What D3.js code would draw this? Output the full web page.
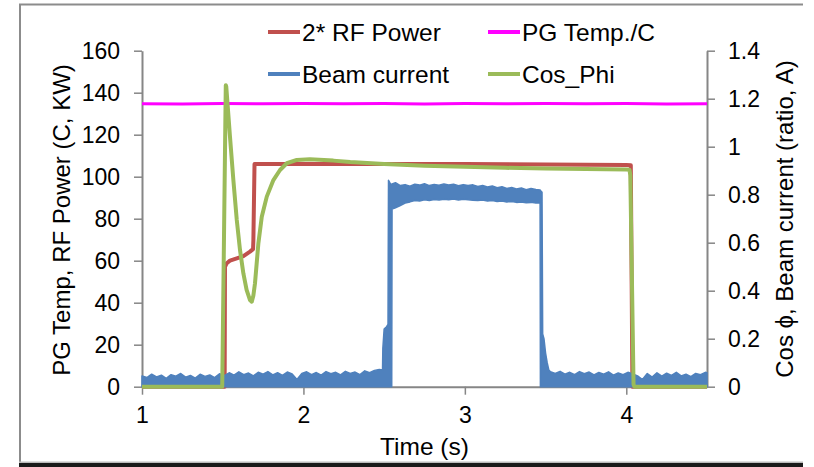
<!DOCTYPE html>
<html><head><meta charset="utf-8">
<script src="https://cdn.jsdelivr.net/npm/d3@7"></script>
<style>
html,body{margin:0;padding:0;background:#fff;}
svg{display:block;font-family:"Liberation Sans",Arial,sans-serif;}
</style></head>
<body>
<svg id="chart" width="814" height="467"></svg>
<script>
// ---------- data ----------
const xTicks = [1, 2, 3, 4];
const leftTicks = [0, 20, 40, 60, 80, 100, 120, 140, 160];
const rightTicks = [0, 0.2, 0.4, 0.6, 0.8, 1, 1.2, 1.4];

// 2* RF Power (left axis)
const rfTime  = [1.0, 1.512, 1.514, 1.525, 1.545, 1.587, 1.628, 1.669, 1.688, 1.690, 1.697, 2.0, 2.5, 3.0, 3.5, 4.0, 4.028, 4.038, 4.5];
const rfValue = [0,   0,     57.1,  58.8,  60.0,  61.1,  62.2,  64.3,  65.5,  70,    106,   106, 106, 106, 105.8, 105.6, 105.5, 0, 0];

// PG Temp./C (left axis)
const pgTime  = [1.0, 1.25, 1.5, 1.75, 2.0, 2.25, 2.5, 2.75, 3.0, 3.25, 3.5, 3.75, 4.0, 4.25, 4.5];
const pgValue = [134.7, 134.6, 134.8, 134.7, 134.9, 134.7, 134.8, 134.6, 134.8, 134.7, 134.9, 134.7, 134.8, 134.6, 134.7];

// Cos_Phi (right axis)
const cosTime  = [1.0, 1.497, 1.519, 1.522, 1.545, 1.566, 1.587, 1.607, 1.628, 1.648, 1.669, 1.680, 1.690, 1.700, 1.721, 1.742, 1.773, 1.814, 1.855, 1.897, 1.959, 2.04, 2.185, 2.29, 2.5, 2.75, 3.0, 3.25, 3.5, 3.75, 4.0, 4.02, 4.025, 4.045, 4.05, 4.5];
const cosValue = [0,   0,     1.256, 1.25,  1.042, 0.861, 0.695, 0.570, 0.472, 0.403, 0.361, 0.354, 0.380, 0.431, 0.598, 0.708, 0.792, 0.861, 0.903, 0.931, 0.945, 0.948, 0.942, 0.936, 0.928, 0.921, 0.916, 0.912, 0.909, 0.907, 0.905, 0.904, 0.88, 0.01, 0, 0];

// Beam current (right axis): noisy trace, given as lower/upper envelope
const beamTime = [
 1.00,1.03,1.06,1.09,1.12,1.15,1.18,1.21,1.24,1.27,1.30,1.33,1.36,1.39,1.42,1.45,1.48,1.51,1.54,1.57,
 1.60,1.63,1.66,1.69,1.72,1.75,1.78,1.81,1.84,1.87,1.90,1.93,1.96,1.99,2.02,2.05,2.08,2.11,2.14,2.17,
 2.20,2.23,2.26,2.29,2.32,2.35,2.38,2.41,2.44,2.47,
 2.490,2.492,2.500,2.515,2.524,2.527,2.535,2.547,2.549,
 2.57,2.60,2.63,2.66,2.69,2.72,2.75,2.78,2.81,2.84,2.87,2.90,2.93,2.96,2.99,3.02,3.05,3.08,3.11,3.14,
 3.17,3.20,3.23,3.26,3.29,3.32,3.35,3.38,3.41,3.44,
 3.466,3.468,3.478,3.482,3.490,3.500,3.510,3.520,
 3.53,3.56,3.59,3.62,3.65,3.68,3.71,3.74,3.77,3.80,3.83,3.86,3.89,3.92,3.95,3.98,4.01,4.04,4.07,4.10,
 4.13,4.16,4.19,4.22,4.25,4.28,4.31,4.34,4.37,4.40,4.43,4.46,4.49,4.50];
const beamHigh = [
 .045,.038,.052,.041,.048,.035,.050,.044,.055,.040,.047,.036,.052,.043,.049,.038,.054,.046,.058,.048,
 .062,.050,.057,.045,.060,.052,.063,.049,.058,.047,.061,.053,.030,.055,.062,.050,.059,.048,.063,.054,
 .060,.049,.064,.055,.061,.050,.066,.058,.068,.072,
 .070,.160,.240,.250,.260,.860,.850,.840,.845,
 .850,.838,.842,.835,.844,.840,.846,.838,.843,.839,.845,.840,.844,.837,.842,.838,.841,.834,.838,.832,
 .836,.829,.833,.826,.830,.824,.828,.821,.826,.822,
 .820,.818,.810,.220,.200,.140,.100,.070,
 .062,.055,.064,.052,.060,.050,.063,.054,.061,.049,.059,.052,.062,.048,.057,.050,.060,.053,.045,.030,
 .055,.040,.058,.044,.056,.047,.060,.045,.052,.042,.055,.050,.060,.058];
const beamLow = [
 0,0,0,0,0,0,0,0,0,0,0,0,0,0,0,0,0,0,0,0,
 0,0,0,0,0,0,0,0,0,0,0,0,0,0,0,0,0,0,0,0,
 0,0,0,0,0,0,0,0,0,0,
 0,0,0,0,0,0,0,0,.740,
 .745,.755,.765,.770,.776,.774,.779,.776,.780,.778,.781,.779,.782,.778,.781,.779,.777,.776,.778,.774,
 .776,.772,.774,.770,.772,.768,.770,.766,.768,.765,
 .765,0,0,0,0,0,0,0,
 0,0,0,0,0,0,0,0,0,0,0,0,0,0,0,0,0,0,0,0,
 0,0,0,0,0,0,0,0,0,0,0,0,0,0];

// legend
const legendItems = [
  {name: "2* RF Power", color: "#C0504D"},
  {name: "PG Temp./C",  color: "#FF00FF"},
  {name: "Beam current", color: "#4F81BD"},
  {name: "Cos_Phi",     color: "#9BBB59"}
];

// ---------- drawing ----------
const svg = d3.select("#chart");
const X0 = 142, X1 = 707, Y0 = 386.7, Y1 = 50.7;
const x  = d3.scaleLinear().domain([1, 4.5]).range([X0, X1]);
const yL = d3.scaleLinear().domain([0, 160]).range([Y0, Y1]);
const yR = d3.scaleLinear().domain([0, 1.4]).range([Y0, Y1]);
const axisColor = "#868686";

// outer frame
svg.append("line").attr("x1", 20).attr("x2", 20).attr("y1", 4).attr("y2", 463)
  .attr("stroke", "#8c8c8c").attr("stroke-width", 2);
svg.append("line").attr("x1", 19).attr("x2", 803).attr("y1", 4.5).attr("y2", 4.5)
  .attr("stroke", "#8c8c8c").attr("stroke-width", 2);
svg.append("rect").attr("x", 19).attr("y", 461.5).attr("width", 784).attr("height", 1.5).attr("fill", "#bbbbbb");
svg.append("rect").attr("x", 19).attr("y", 463).attr("width", 784).attr("height", 4).attr("fill", "#1a1a1a");

function styleAxis(g, size) {
  g.selectAll(".domain").attr("stroke", axisColor).attr("stroke-width", 2);
  g.selectAll(".tick line").attr("stroke", axisColor).attr("stroke-width", 1.5);
  g.selectAll(".tick text").attr("fill", "#000").style("font-size", size + "px")
    .style("font-family", "'Liberation Sans', Arial, sans-serif");
}

const gx = svg.append("g").attr("transform", `translate(0,${Y0})`)
  .call(d3.axisBottom(x).tickValues(xTicks).tickFormat(d3.format("d")).tickSize(8).tickSizeOuter(0).tickPadding(12));
styleAxis(gx, 23);

const gl = svg.append("g").attr("transform", `translate(${X0},0)`)
  .call(d3.axisLeft(yL).tickValues(leftTicks).tickFormat(d3.format("d")).tickSize(8).tickSizeOuter(0).tickPadding(14));
styleAxis(gl, 23);

const gr = svg.append("g").attr("transform", `translate(${X1},0)`)
  .call(d3.axisRight(yR).tickValues(rightTicks).tickFormat(d => d3.format("~g")(d)).tickSize(8).tickSizeOuter(0).tickPadding(13));
styleAxis(gr, 23);

// axis titles
svg.append("text").attr("x", (X0 + X1) / 2).attr("y", 455).attr("text-anchor", "middle")
  .style("font-size", "24.5px").text("Time (s)");
svg.append("text").attr("transform", "translate(62,220) rotate(-90)").attr("text-anchor", "middle")
  .attr("dy", "0.35em").style("font-size", "24px").text("PG Temp, RF Power (C, KW)");
svg.append("text").attr("transform", "translate(785,219) rotate(-90)").attr("text-anchor", "middle")
  .attr("dy", "0.35em").style("font-size", "24px").text("Cos ϕ, Beam current (ratio, A)");

// series
const lineL = d3.line().x(d => x(d[0])).y(d => yL(d[1]));
const lineR = d3.line().x(d => x(d[0])).y(d => yR(d[1]));

svg.append("path").datum(d3.zip(rfTime, rfValue)).attr("d", lineL)
  .attr("fill", "none").attr("stroke", "#C0504D").attr("stroke-width", 4).attr("stroke-linejoin", "round");

svg.append("path").datum(d3.zip(pgTime, pgValue)).attr("d", lineL)
  .attr("fill", "none").attr("stroke", "#FF00FF").attr("stroke-width", 3);

const beamArea = d3.area().x(d => x(d[0])).y0(d => yR(d[1])).y1(d => yR(d[2]));
svg.append("path").datum(d3.zip(beamTime, beamLow, beamHigh)).attr("d", beamArea)
  .attr("fill", "#4F81BD").attr("stroke", "#4F81BD").attr("stroke-width", 1.5).attr("stroke-linejoin", "round");

svg.append("path").datum(d3.zip(cosTime, cosValue)).attr("d", lineR)
  .attr("fill", "none").attr("stroke", "#9BBB59").attr("stroke-width", 4).attr("stroke-linejoin", "round");

// legend
const legendPos = [[268, 32], [488, 32], [268, 74], [488, 74]];
legendItems.forEach((it, i) => {
  const [lx, ly] = legendPos[i];
  svg.append("line").attr("x1", lx).attr("x2", lx + 32).attr("y1", ly).attr("y2", ly)
    .attr("stroke", it.color).attr("stroke-width", 4);
  svg.append("text").attr("x", lx + 34).attr("y", ly).attr("dy", "0.35em")
    .style("font-size", "24.5px").text(it.name);
});
</script>
</body></html>
